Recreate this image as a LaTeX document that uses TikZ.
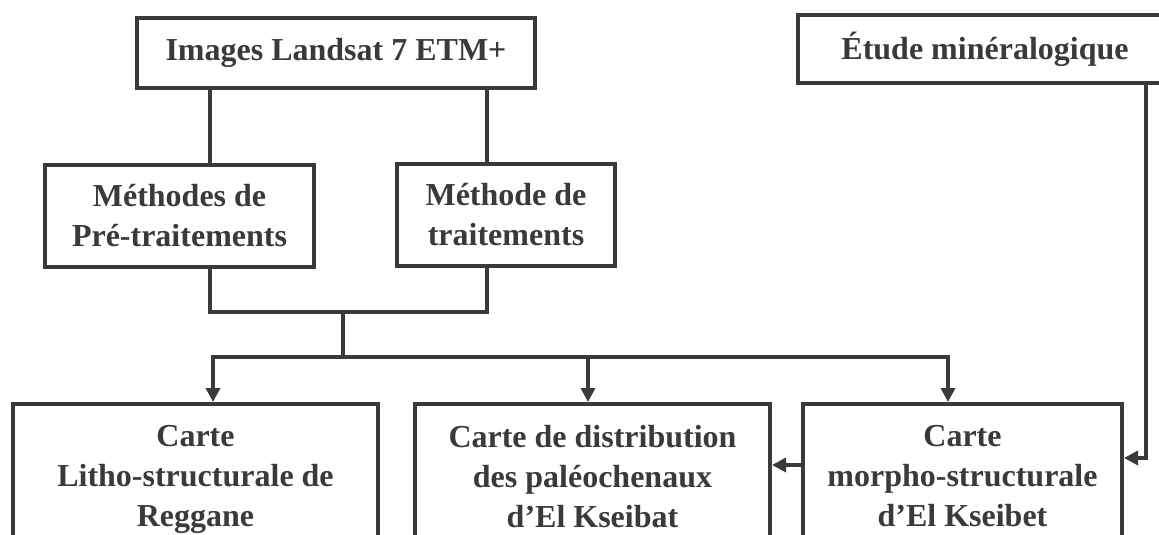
\documentclass[tikz,border=0pt]{standalone}
\usepackage{fontspec}
\setmainfont{Liberation Serif}
\usetikzlibrary{arrows.meta}
\definecolor{ink}{HTML}{3A3A3A}
\begin{document}
\begin{tikzpicture}[x=1pt,y=-1pt,
  box/.style={draw=ink, line width=4pt, fill=white, inner sep=0pt},
  txt/.style={text=ink, font=\fontsize{32}{40}\selectfont\bfseries, align=center, inner sep=0pt},
  conn/.style={draw=ink, line width=4pt},
  arr/.style={conn, -{Triangle[length=14pt,width=14pt]}}]
\clip (0,0) rectangle (1159,535);
\fill[white] (0,0) rectangle (1159,535);

% boxes
\node[box, txt, minimum width=398pt, minimum height=70pt] (img) at (336,53) {Images Landsat 7 ETM+};
\node[box, txt, minimum width=374pt, minimum height=68pt] (etude) at (985,49) {Étude minéralogique};
\node[box, txt, minimum width=269pt, minimum height=102pt] (pre) at (179.5,216) {Méthodes de\\Pré-traitements};
\node[box, txt, minimum width=218pt, minimum height=102pt] (met) at (506,215) {Méthode de\\traitements};
\node[box, minimum width=365pt, minimum height=196pt] (lb) at (195.5,502) {};
\node[box, minimum width=355pt, minimum height=196pt] (mb) at (592.5,502) {};
\node[box, minimum width=319pt, minimum height=196pt] (rb) at (962.5,502) {};
\node[txt, anchor=north] (lbt) at (195.5,425) {Carte\\Litho-structurale de\\Reggane};
\node[txt, anchor=north] (mbt) at (592.5,425) {Carte de distribution\\des paléochenaux\\d’El Kseibat};
\node[txt, anchor=north] (rbt) at (962.5,425) {Carte\\morpho-structurale\\d’El Kseibet};

% helper coordinates
\coordinate (cL) at (210,0);
\coordinate (cR) at (487,0);
\coordinate (cM) at (343,312);
\coordinate (d1) at (0,357);
\coordinate (a1) at (213,0);
\coordinate (a2) at (588,0);
\coordinate (a3) at (948,0);
\coordinate (ex) at (1146,0);
\coordinate (ey) at (0,458);
\coordinate (hy) at (0,465);

% connectors
\draw[conn] (img.south -| cL) -- (pre.north -| cL);
\draw[conn] (img.south -| cR) -- (met.north -| cR);
\draw[conn] (pre.south -| cL) |- (cM) -| (met.south -| cR);
\draw[conn] (cM) -- (cM |- d1);
\draw[arr] (cM |- d1) -| (lb.north -| a1);
\draw[arr] (cM |- d1) -| (rb.north -| a3);
\draw[arr] (a2 |- d1) -- (mb.north -| a2);
\draw[arr] (etude.south -| ex) |- (rb.east |- ey);
\draw[arr] (rb.west |- hy) -- (mb.east |- hy);
\end{tikzpicture}
\end{document}
